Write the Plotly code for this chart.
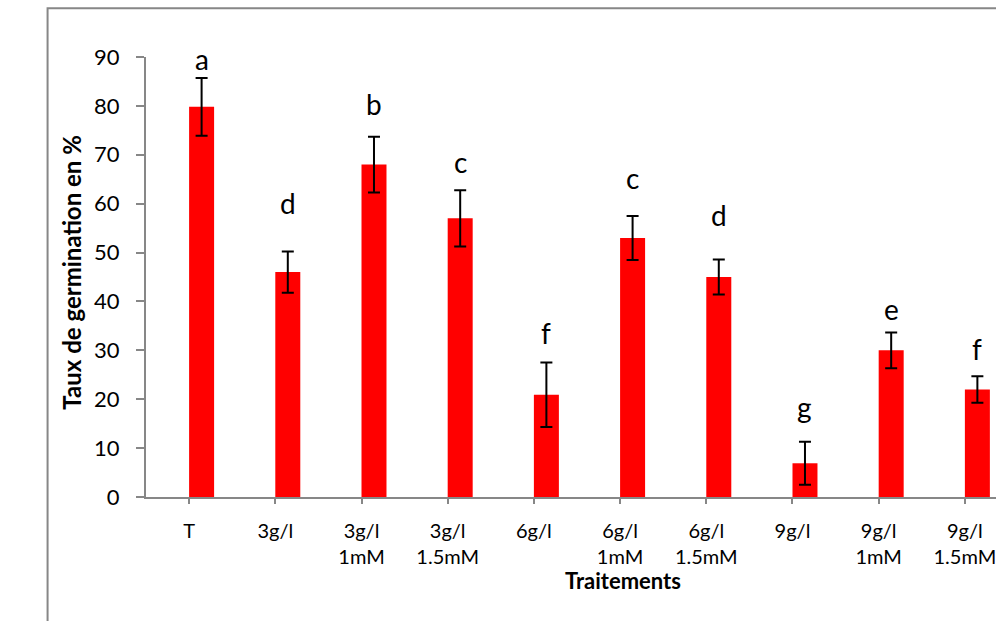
import plotly.graph_objects as go

categories = ["T", "3g/l", "3g/l<br>1mM", "3g/l<br>1.5mM", "6g/l", "6g/l<br>1mM",
              "6g/l<br>1.5mM", "9g/l", "9g/l<br>1mM", "9g/l<br>1.5mM"]
germination = [79.8, 46.0, 68.0, 57.0, 20.9, 53.0, 45.0, 6.9, 30.0, 22.0]
errors = [5.9, 4.2, 5.7, 5.75, 6.6, 4.5, 3.6, 4.4, 3.65, 2.7]
letters = ["a", "d", "b", "c", "f", "c", "d", "g", "e", "f"]
letter_y = [87.5, 58.0, 78.3, 66.5, 31.6, 63.3, 55.6, 16.4, 36.5, 28.3]

BAR_W = 0.29
FONT = "Lato, Carlito, Calibri, sans-serif"
AXIS_COL = "#878787"

fig = go.Figure()
fig.add_trace(go.Bar(
    x=list(range(len(categories))),
    y=germination,
    width=BAR_W,
    offset=0,
    marker=dict(color="#FF0000", line=dict(width=0)),
    error_y=dict(type="data", array=errors, visible=True,
                 color="black", thickness=2, width=6),
    showlegend=False,
))

for i, (lt, ly) in enumerate(zip(letters, letter_y)):
    fig.add_annotation(x=i + BAR_W / 2, y=ly, xref="x", yref="y", text=lt,
                       showarrow=False, yanchor="bottom", yshift=-9,
                       font=dict(family=FONT, size=28, color="black"))

fig.add_annotation(xref="paper", yref="paper", x=-0.087, y=0.51,
                   xanchor="center", yanchor="middle",
                   text="<b>Taux de germination en %</b>", textangle=-90,
                   showarrow=False, font=dict(family=FONT, size=24, color="black"))
fig.add_annotation(xref="paper", yref="paper", x=0.561, y=-0.189,
                   xanchor="center", yanchor="middle",
                   text="<b>Traitements</b>", showarrow=False,
                   font=dict(family=FONT, size=22, color="black"))

fig.add_shape(type="rect", xref="paper", yref="paper",
              x0=-0.1158, x1=1.1, y0=-0.5, y1=1.111,
              line=dict(color=AXIS_COL, width=2), fillcolor="rgba(0,0,0,0)",
              layer="below")

fig.update_layout(
    width=996, height=621,
    margin=dict(l=146, r=0, t=57, b=124),
    paper_bgcolor="white", plot_bgcolor="white",
    font=dict(family=FONT, color="black"),
    xaxis=dict(
        tickmode="array", tickvals=list(range(len(categories))), ticktext=categories,
        range=[-0.5, 9.361], tickson="boundaries",
        ticks="outside", ticklen=5, tickwidth=1.5, tickcolor=AXIS_COL,
        showline=True, linecolor=AXIS_COL, linewidth=2,
        showgrid=False, zeroline=False,
        tickfont=dict(family=FONT, size=20, color="black"),
        ticklabelstandoff=10, ticklabeloverflow="allow",
        fixedrange=True,
    ),
    yaxis=dict(
        range=[0, 90], dtick=10, tick0=0,
        ticks="outside", ticklen=8, tickwidth=1.5, tickcolor=AXIS_COL,
        showline=True, linecolor=AXIS_COL, linewidth=2,
        showgrid=False, zeroline=False,
        tickfont=dict(family=FONT, size=22, color="black"),
        ticklabelstandoff=12,
        fixedrange=True,
    ),
)

fig.write_html("out.html", config={"displayModeBar": False},
               post_script="document.body.style.margin='0';document.body.style.overflow='hidden';")
